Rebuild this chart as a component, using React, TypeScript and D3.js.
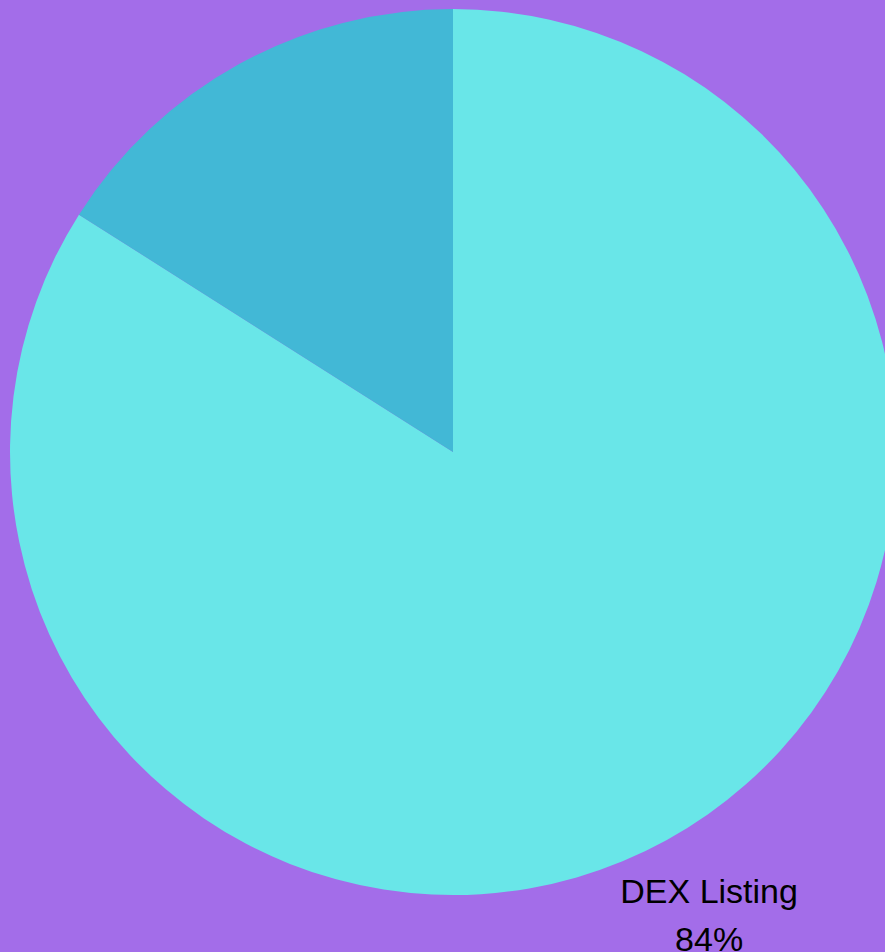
import React, { useEffect, useRef } from 'react';
import * as d3 from 'd3';

// Slice data
const labels = ['DEX Listing', 'Other'];
const values = [84, 16];
const colors = ['#69E6E8', '#42B8D6'];
// only the big slice carries a visible label in the original
const showLabel = [true, false];

const WIDTH = 885;
const HEIGHT = 952;

export default function App() {
    const svgRef = useRef<SVGSVGElement>(null);

    useEffect(() => {
        if (!svgRef.current) return;
        const svg = d3.select(svgRef.current);
        svg.selectAll('*').remove();

        const cx = 453;
        const cy = 452;
        const radius = 443;

        svg.append('rect')
            .attr('width', WIDTH)
            .attr('height', HEIGHT)
            .attr('fill', '#A36DE9');

        const data = labels.map((label, i) => ({ label, value: values[i], color: colors[i], show: showLabel[i] }));

        const pie = d3.pie<typeof data[number]>()
            .value(d => d.value)
            .sort(null);

        const arc = d3.arc<d3.PieArcDatum<typeof data[number]>>()
            .innerRadius(0)
            .outerRadius(radius);

        const labelArc = d3.arc<d3.PieArcDatum<typeof data[number]>>()
            .innerRadius(radius * 1.2)
            .outerRadius(radius * 1.2);

        const g = svg.append('g').attr('transform', `translate(${cx},${cy})`);
        const arcs = pie(data);

        g.selectAll('path.slice')
            .data(arcs)
            .join('path')
            .attr('class', 'slice')
            .attr('d', arc)
            .attr('fill', d => d.data.color);

        const text = g.selectAll('text.label')
            .data(arcs.filter(d => d.data.show))
            .join('text')
            .attr('class', 'label')
            .attr('transform', d => `translate(${labelArc.centroid(d)})`)
            .attr('text-anchor', 'middle')
            .attr('font-family', '"Liberation Sans", Arial, sans-serif')
            .attr('font-size', 34)
            .attr('fill', '#000');

        text.append('tspan')
            .attr('x', 0)
            .attr('dy', '-0.44em')
            .text(d => d.data.label);
        text.append('tspan')
            .attr('x', 0)
            .attr('dy', '1.41em')
            .text(d => `${d.data.value}%`);
    }, []);

    return (
        <svg
            ref={svgRef}
            width={WIDTH}
            height={HEIGHT}
            style={{ position: 'fixed', left: 0, top: 0, display: 'block' }}
        />
    );
}
